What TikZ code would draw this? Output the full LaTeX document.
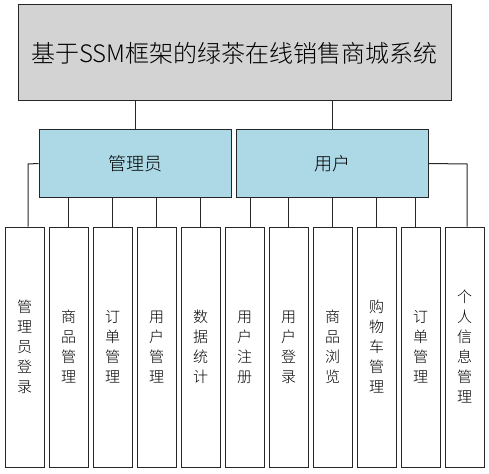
\documentclass[tikz,border=0pt]{standalone}
\usepackage{fontspec}
\setmainfont{Noto Sans CJK SC Light}
\begin{document}
\begin{tikzpicture}[x=1pt,y=-1pt,
  box/.style={draw=black!85,line width=1pt,inner sep=0pt,anchor=center},
  leaf/.style={box,minimum width=39pt,minimum height=240pt,align=center,font=\fontsize{15}{20}\selectfont,fill=white},
  link/.style={draw=black!85,line width=1pt}]
\useasboundingbox (0,0) rectangle (489,473);
\node[box,fill={rgb,255:red,211;green,211;blue,211},minimum width=433pt,minimum height=96pt,font=\fontsize{24}{28}\selectfont] (title) at (234.5,53) {基于SSM框架的绿茶在线销售商城系统};
\node[box,fill={rgb,255:red,173;green,216;blue,230},minimum width=192pt,minimum height=67pt,font=\fontsize{18}{22}\selectfont] (admin) at (135,163.5) {管理员};
\node[box,fill={rgb,255:red,173;green,216;blue,230},minimum width=192pt,minimum height=67pt,font=\fontsize{18}{22}\selectfont] (user) at (332,163.5) {用户};
\node[leaf] (b1) at (24.5,347) {管\\理\\员\\登\\录};
\node[leaf] (b2) at (68.5,347) {商\\品\\管\\理};
\node[leaf] (b3) at (112.5,347) {订\\单\\管\\理};
\node[leaf] (b4) at (156.5,347) {用\\户\\管\\理};
\node[leaf] (b5) at (200.5,347) {数\\据\\统\\计};
\node[leaf] (b6) at (244.5,347) {用\\户\\注\\册};
\node[leaf] (b7) at (288.5,347) {用\\户\\登\\录};
\node[leaf] (b8) at (332.5,347) {商\\品\\浏\\览};
\node[leaf] (b9) at (376.5,347) {购\\物\\车\\管\\理};
\node[leaf] (b10) at (420.5,347) {订\\单\\管\\理};
\node[leaf] (b11) at (464.5,347) {个\\人\\信\\息\\管\\理};
\coordinate (jl) at (28,164);
\coordinate (jr) at (467,164);
\draw[link] (admin.north |- title.south) -- (admin.north);
\draw[link] (user.north |- title.south) -- (user.north);
\draw[link] (admin.west) -- (jl) -- (jl |- b1.north);
\draw[link] (user.east) -- (jr) -- (jr |- b11.north);
\foreach \b in {b2,b3,b4,b5}{\draw[link] (\b.north |- admin.south) -- (\b.north);}
\draw[link] ([xshift=5.5pt]b6.north |- user.south) -- ([xshift=5.5pt]b6.north);
\foreach \b in {b7,b8,b9}{\draw[link] (\b.north |- user.south) -- (\b.north);}
\draw[link] ([xshift=-5.5pt]b10.north |- user.south) -- ([xshift=-5.5pt]b10.north);
\end{tikzpicture}
\end{document}
